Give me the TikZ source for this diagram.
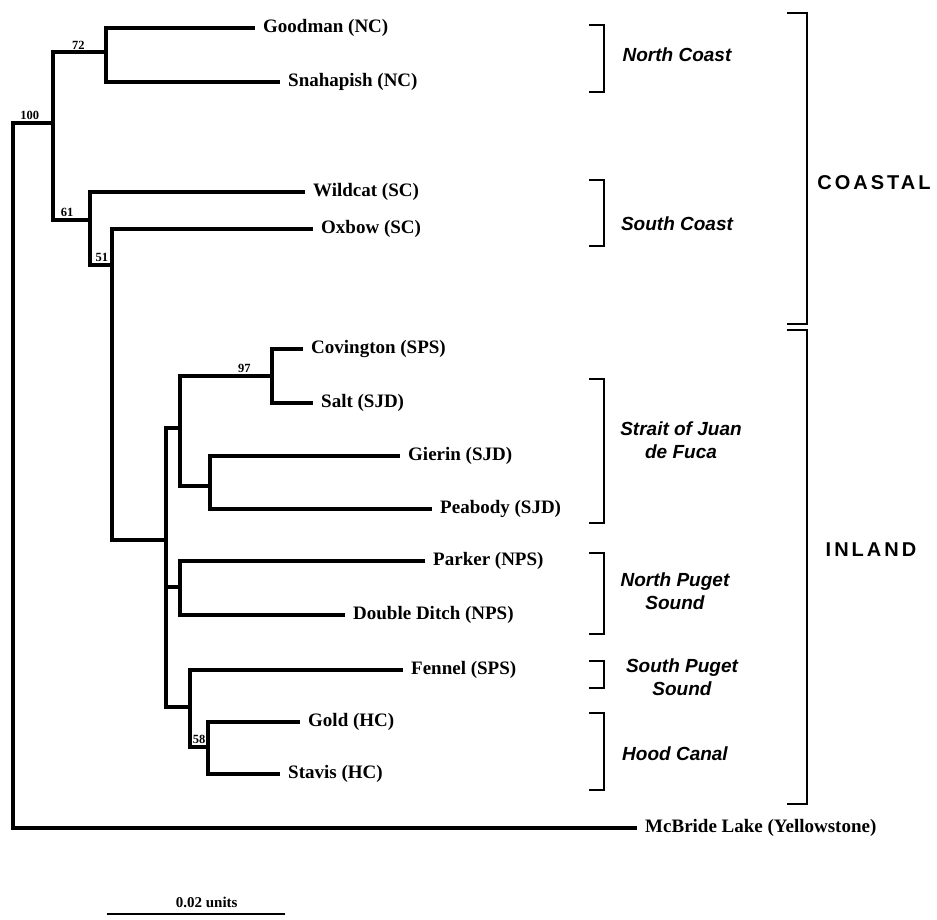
\documentclass[tikz,border=0pt]{standalone}
\usepackage{fontspec}
\setmainfont{Liberation Serif}
\newfontfamily\regionfont{Liberation Sans}
\newfontfamily\zonefont[LetterSpace=15]{Liberation Sans}
\usetikzlibrary{positioning}

\begin{document}
\begin{tikzpicture}[x=1pt, y=-1pt,
    branch/.style={line width=3.8pt},
    bracket/.style={line width=2.2pt},
    leaf/.style={font=\fontsize{19}{19}\selectfont\bfseries, inner sep=0pt},
    boot/.style={font=\fontsize{12.5}{12.5}\selectfont\bfseries, inner sep=1pt},
    region/.style={font=\regionfont\fontsize{19}{23}\selectfont\bfseries\itshape, align=center, inner sep=0pt},
    zone/.style={font=\zonefont\fontsize{20}{20}\selectfont\bfseries, inner sep=0pt}]

        \useasboundingbox (0,0) rectangle (937,920);

        % Internal nodes of the tree
        \coordinate (root) at (13,475);
        \coordinate (n100) at (53,123);
        \coordinate (n72) at (106,52);
        \coordinate (n61) at (90,220);
        \coordinate (n51) at (112,265);
        \coordinate (ninland) at (166,540);
        \coordinate (nsjd) at (180,428);
        \coordinate (n97) at (272,376);
        \coordinate (ngp) at (210,486);
        \coordinate (nnps) at (180,587);
        \coordinate (nsouth) at (190,707);
        \coordinate (n58) at (208,747);

        % Leaf ends
        \coordinate (goodman) at (255,28);
        \coordinate (snahapish) at (280,82);
        \coordinate (wildcat) at (305,192);
        \coordinate (oxbow) at (313,229);
        \coordinate (covington) at (303,349);
        \coordinate (salt) at (313,403);
        \coordinate (gierin) at (400,456);
        \coordinate (peabody) at (432,509);
        \coordinate (parker) at (425,561);
        \coordinate (doubleditch) at (345,615);
        \coordinate (fennel) at (403,670);
        \coordinate (gold) at (300,722);
        \coordinate (stavis) at (280,774);
        \coordinate (mcbride) at (637,828);

        % Branches with bootstrap values
        \draw[branch] (root) |- (n100) node[boot, pos=0.71, above] (b100) {100};
        \draw[branch] (n100) |- (n72) node[boot, pos=0.74, above] (b72) {72};
        \draw[branch] (n100) |- (n61) node[boot, pos=0.69, above] (b61) {61};
        \draw[branch] (n61) |- (n51) node[boot, pos=0.77, above] (b51) {51};
        \draw[branch] (nsjd) |- (n97) node[boot, pos=0.85, above] (b97) {97};
        \draw[branch] (nsouth) |- (n58) node[boot, pos=0.75, above] (b58) {58};

        % Remaining branches
        \foreach \a/\b in {root/mcbride, n72/goodman, n72/snahapish, n61/wildcat,
                           n51/oxbow, n51/ninland, ninland/nsjd, ninland/nnps,
                           ninland/nsouth, nsjd/ngp, n97/covington, n97/salt,
                           ngp/gierin, ngp/peabody, nnps/parker, nnps/doubleditch,
                           nsouth/fennel, n58/gold, n58/stavis} {
          \draw[branch] (\a) |- (\b);
        }

        % Population names
        \foreach \n/\t in {goodman/{Goodman (NC)}, snahapish/{Snahapish (NC)},
                           wildcat/{Wildcat (SC)}, oxbow/{Oxbow (SC)},
                           covington/{Covington (SPS)}, salt/{Salt (SJD)},
                           gierin/{Gierin (SJD)}, peabody/{Peabody (SJD)},
                           parker/{Parker (NPS)}, doubleditch/{Double Ditch (NPS)},
                           fennel/{Fennel (SPS)}, gold/{Gold (HC)},
                           stavis/{Stavis (HC)}, mcbride/{McBride Lake (Yellowstone)}} {
          \node[leaf, right=8pt of \n] (\n-lbl) {\t};
        }

        % Region brackets
        \foreach \t/\b in {25/92, 180/246, 379/523, 553/634, 661/688, 713/790} {
          \draw[bracket] (589,\t) -| (604,\b) -- (589,\b);
        }
        \draw[bracket] (787,13) -| (807,324) -- (787,324);
        \draw[bracket] (787,330) -| (807,804) -- (787,804);

        \node[region] (rnc) at (677,55) {North Coast};
        \node[region] (rsc) at (677,224) {South Coast};
        \node[region] (rsjd) at (681,440) {Strait of Juan\\de Fuca};
        \node[region] (rnps) at (675,591) {North Puget\\Sound};
        \node[region] (rsps) at (682,677) {South Puget\\Sound};
        \node[region] (rhc) at (675,754) {Hood Canal};

        \node[zone] (zcoastal) at (874,183) {COASTAL};
        \node[zone] (zinland) at (871,550) {INLAND};

        % Scale bar
        \coordinate (sbl) at (107,914);
        \coordinate (sbr) at (285,914);
        \draw[line width=2.6pt] (sbl) -- (sbr) node[boot, pos=0.56, above=4pt, font=\fontsize{15}{15}\selectfont\bfseries] (sbtext) {0.02 units};

      \end{tikzpicture}
\end{document}
